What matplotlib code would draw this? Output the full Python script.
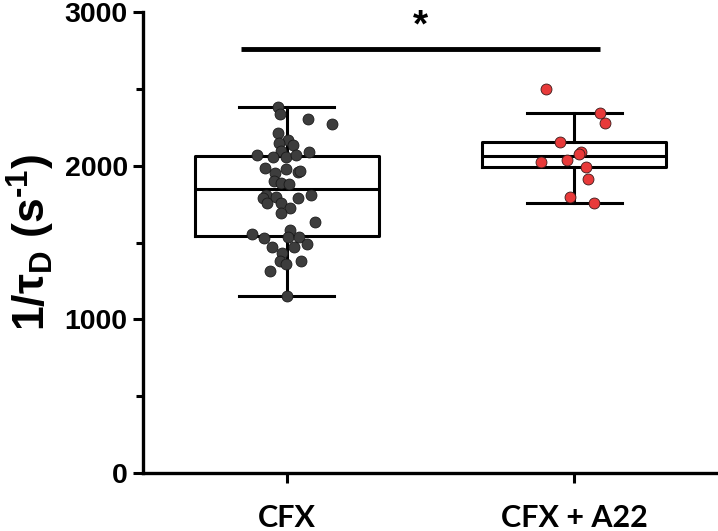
import matplotlib
matplotlib.use("Agg")
import matplotlib.pyplot as plt
from matplotlib.ticker import MultipleLocator

plt.rcParams['font.family'] = ['Liberation Sans', 'DejaVu Sans']
plt.rcParams['mathtext.fontset'] = 'custom'
plt.rcParams['mathtext.rm'] = 'Liberation Sans:bold'
plt.rcParams['mathtext.it'] = 'Liberation Sans:bold'
plt.rcParams['mathtext.bf'] = 'Liberation Sans:bold'

categories = ["CFX", "CFX + A22"]

cfx_values = [2379, 2336, 2301, 2271, 2210, 2167, 2134, 2145, 2097, 2069, 2058, 2058,
              2067, 2088, 1982, 1950, 1976, 1960, 1967, 1902, 1885, 1880, 1809, 1787,
              1759, 1798, 1754, 1722, 1694, 1791, 1809, 1631, 1555, 1527, 1581, 1538,
              1533, 1473, 1434, 1473, 1488, 1382, 1360, 1379, 1314, 1152]
cfx_jitter = [-0.030, -0.024, 0.074, 0.157, -0.030, 0.005, 0.022, -0.027, -0.019, -0.103,
              -0.048, -0.001, 0.031, 0.078, -0.077, -0.042, -0.001, 0.039, 0.045, -0.044,
              -0.019, 0.008, -0.071, -0.082, -0.068, -0.038, -0.019, 0.010, -0.021, 0.039,
              0.084, 0.098, -0.120, -0.080, 0.010, 0.005, 0.043, -0.050, -0.015, 0.024,
              0.069, -0.024, -0.003, 0.049, -0.057, 0.001]

a22_values = [2498, 2340, 2279, 2156, 2086, 2075, 2026, 2036, 1989, 1915, 1794, 1755]
a22_jitter = [-0.100, 0.088, 0.106, -0.048, 0.024, 0.015, -0.117, -0.024, 0.042, 0.048,
              -0.016, 0.069]

# box statistics: whisker low, Q1, median, Q3, whisker high
cfx_box = [1152, 1542, 1848, 2063, 2379]
a22_box = [1757, 1991, 2062, 2154, 2342]

sig_value = 2760
sig_label = "*"

fig = plt.figure(figsize=(7.18, 5.31), dpi=100)
ax = fig.add_axes([0.1992, 0.1092, 0.8008, 0.8682])

stats = []
for name, b in zip(categories, [cfx_box, a22_box]):
    stats.append(dict(label=name, whislo=b[0], q1=b[1], med=b[2], q3=b[3], whishi=b[4], fliers=[]))

lw = 2.2
ax.bxp(stats, positions=[0, 1], widths=0.64, showfliers=False,
       boxprops=dict(color='black', linewidth=lw),
       medianprops=dict(color='black', linewidth=lw),
       whiskerprops=dict(color='black', linewidth=lw),
       capprops=dict(color='black', linewidth=lw),
       capwidths=0.33, zorder=2)

ax.scatter([0 + j for j in cfx_jitter], cfx_values, s=62, color='#3d3d3d',
           edgecolors='#1a1a1a', linewidths=0.6, zorder=3)
ax.scatter([1 + j for j in a22_jitter], a22_values, s=62, color='#e83a3a',
           edgecolors='#3a1a1a', linewidths=0.6, zorder=3)

# significance bar
ax.plot([-0.16, 1.09], [sig_value, sig_value], color='black', linewidth=3.5,
        solid_capstyle='butt', clip_on=False)
ax.text(0.465, sig_value + 30, sig_label, ha='center', va='bottom',
        fontsize=28, fontweight='bold')

ax.set_xlim(-0.5, 1.5)
ax.set_ylim(0, 3000)
ax.set_xticks([0, 1])
ax.set_xticklabels(categories, fontsize=22, fontweight='bold', family=['Lato', 'DejaVu Sans'])
ax.yaxis.set_major_locator(MultipleLocator(1000))
ax.yaxis.set_minor_locator(MultipleLocator(500))
ax.tick_params(axis='y', which='major', labelsize=20.5, length=7, width=2.2, pad=4)
ax.tick_params(axis='y', which='minor', length=5, width=2.2)
ax.tick_params(axis='x', which='major', length=7, width=2.2, pad=15)
for lab in ax.get_yticklabels():
    lab.set_fontweight('bold')

for s in ['top', 'right']:
    ax.spines[s].set_visible(False)
for s in ['left', 'bottom']:
    ax.spines[s].set_linewidth(2.4)

ax.set_ylabel('1/τ$_{\\mathrm{D}}$ (s$^{\\mathrm{\u20101}}$)', fontsize=32, fontweight='bold')
ax.yaxis.set_label_coords(-0.15, 0.5)

fig.savefig("out.png", dpi=100)
